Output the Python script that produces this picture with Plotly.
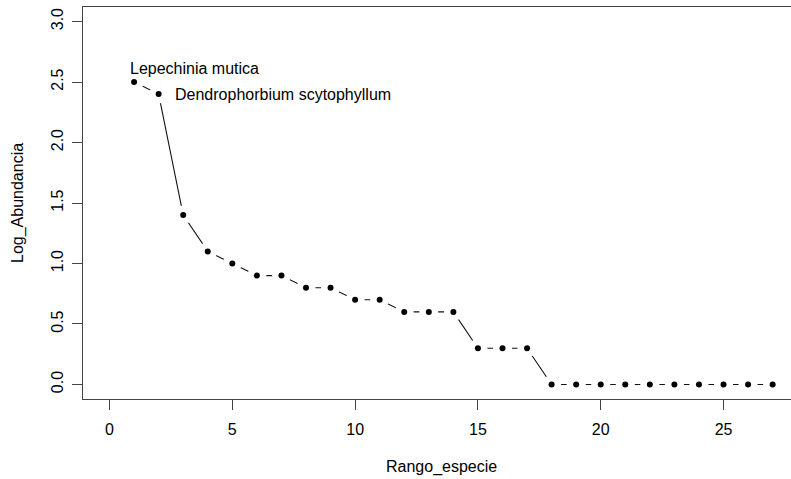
import plotly.graph_objects as go

rango = list(range(1, 28))
log_abund = [2.5, 2.4, 1.4, 1.1, 1.0, 0.9, 0.9, 0.8, 0.8, 0.7, 0.7, 0.6, 0.6, 0.6,
             0.3, 0.3, 0.3, 0, 0, 0, 0, 0, 0, 0, 0, 0, 0]
etiquetas = ["Lepechinia mutica", "Dendrophorbium scytophyllum"]
x_ticks = [0, 5, 10, 15, 20, 25]
y_ticks = [0.0, 0.5, 1.0, 1.5, 2.0, 2.5, 3.0]

FONT = "Liberation Sans, Arial, sans-serif"
W, H = 791, 479
ML, MR, MT, MB = 83, 0, 7, 80
px_per_x = 24.56
x0 = -1.08
x1 = x0 + (W - ML - MR) / px_per_x

fig = go.Figure()
# line through points
fig.add_trace(go.Scatter(x=rango, y=log_abund, mode="lines",
                         line=dict(color="#111111", width=1.1),
                         hoverinfo="skip", showlegend=False))
# white gaps around points (R type = "b")
fig.add_trace(go.Scatter(x=rango, y=log_abund, mode="markers",
                         marker=dict(color="white", size=19, line=dict(width=0)),
                         hoverinfo="skip", showlegend=False))
# points
fig.add_trace(go.Scatter(x=rango, y=log_abund, mode="markers",
                         marker=dict(color="black", size=6, line=dict(width=0)),
                         showlegend=False))

# species labels
fig.add_annotation(x=rango[0], y=log_abund[0], text=etiquetas[0], showarrow=False,
                   xanchor="left", yanchor="middle", xshift=-6, yshift=14,
                   font=dict(family=FONT, size=16, color="black"))
fig.add_annotation(x=rango[1], y=log_abund[1], text=etiquetas[1], showarrow=False,
                   xanchor="left", yanchor="middle", xshift=14, yshift=0,
                   font=dict(family=FONT, size=16, color="black"))

# axis titles
fig.add_annotation(x=(x0 + 28.08) / 2, xref="x", y=0, yref="paper", text="Rango_especie",
                   showarrow=False, xanchor="center", yanchor="middle", yshift=-68,
                   font=dict(family=FONT, size=16, color="black"))
fig.add_annotation(x=0, xref="paper", y=0.5, yref="paper", text="Log_Abundancia",
                   showarrow=False, xanchor="center", yanchor="middle", xshift=-65,
                   textangle=-90, font=dict(family=FONT, size=16, color="black"))

fig.update_layout(
    width=W, height=H,
    margin=dict(l=ML, r=MR, t=MT, b=MB),
    paper_bgcolor="white", plot_bgcolor="white",
    font=dict(family=FONT, size=16, color="black"),
    xaxis=dict(range=[x0, x1], tickvals=x_ticks, ticktext=[str(v) for v in x_ticks],
               showgrid=False, zeroline=False, showline=True, mirror=True,
               linecolor="#444444", linewidth=1.3, ticks="outside", ticklen=10,
               tickcolor="#444444", tickwidth=1.3, ticklabelstandoff=6),
    yaxis=dict(range=[-0.12, 3.12], tickvals=y_ticks, ticktext=[f"{v:.1f}" for v in y_ticks],
               showgrid=False, zeroline=False, showline=True, mirror=False,
               linecolor="#444444", linewidth=1.3, ticks="outside", ticklen=10,
               tickcolor="#444444", tickwidth=1.3, tickangle=-90, ticklabelstandoff=2),
)

fig.write_html("out.html")
